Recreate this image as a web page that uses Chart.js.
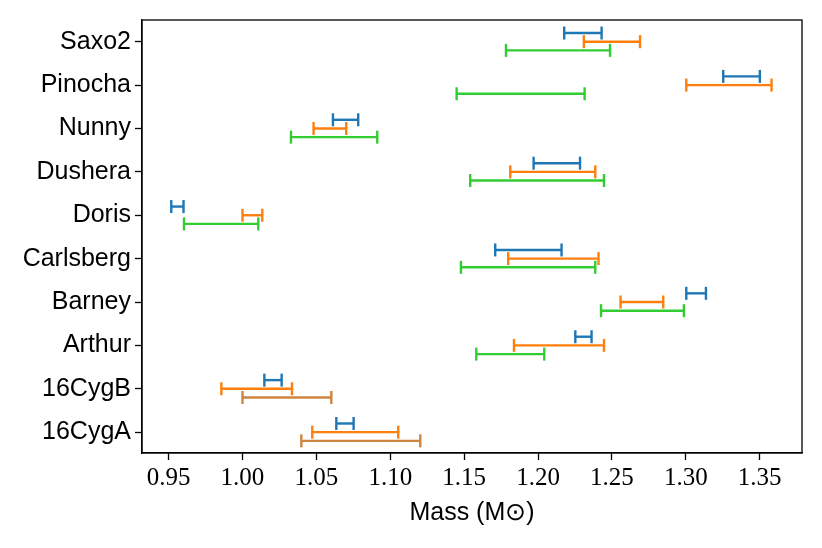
<!DOCTYPE html>
<html>
<head>
<meta charset="utf-8">
<script src="https://cdn.jsdelivr.net/npm/chart.js@4"></script>
<style>
  html, body { margin: 0; padding: 0; background: #fff; }
  #wrap { width: 822px; height: 548px; }
</style>
</head>
<body>
<div id="wrap"><canvas id="massChart" width="822" height="548"></canvas></div>
<script>
// stars, bottom to top
const stars = ['16CygA', '16CygB', 'Arthur', 'Barney', 'Carlsberg', 'Doris', 'Dushera', 'Nunny', 'Pinocha', 'Saxo2'];

// mass intervals (low / high) per method
const blueLo   = [1.0635, 1.0148, 1.2252, 1.3003, 1.1710, 0.9518, 1.1970, 1.0612, 1.3253, 1.2177];
const blueHi   = [1.0752, 1.0265, 1.2362, 1.3136, 1.2159, 0.9601, 1.2284, 1.0783, 1.3501, 1.2430];
const orangeLo = [1.0472, 0.9857, 1.1837, 1.2558, 1.1798, 1.0000, 1.1812, 1.0481, 1.3003, 1.2310];
const orangeHi = [1.1054, 1.0335, 1.2446, 1.2847, 1.2409, 1.0134, 1.2387, 1.0702, 1.3580, 1.2690];
const greenLo  = [null, null, 1.1582, 1.2426, 1.1478, 0.9604, 1.1541, 1.0328, 1.1449, 1.1783];
const greenHi  = [null, null, 1.2042, 1.2987, 1.2387, 1.0107, 1.2446, 1.0912, 1.2315, 1.2487];
const brownLo  = [1.0398, 1.0000, null, null, null, null, null, null, null, null];
const brownHi  = [1.1203, 1.0601, null, null, null, null, null, null, null, null];

const xTicks = [0.95, 1.00, 1.05, 1.10, 1.15, 1.20, 1.25, 1.30, 1.35];
const xTickLabels = ['0.95', '1.00', '1.05', '1.10', '1.15', '1.20', '1.25', '1.30', '1.35'];

const series = [
  { lo: blueLo,   hi: blueHi,   color: '#1f77b4', off: 0.2,  order: 4 },
  { lo: orangeLo, hi: orangeHi, color: '#ff7f0e', off: 0,    order: 3 },
  { lo: greenLo,  hi: greenHi,  color: '#32cd32', off: -0.2, order: 2 },
  { lo: brownLo,  hi: brownHi,  color: '#cd853f', off: -0.2, order: 1 }
];

// one small dataset per interval: a line with vertical caps at both ends
const datasets = [];
series.forEach(s => {
  stars.forEach((name, i) => {
    if (s.lo[i] == null) return;
    datasets.push({
      label: name,
      data: [{ x: s.lo[i], y: i + s.off }, { x: s.hi[i], y: i + s.off }],
      showLine: true,
      borderColor: s.color,
      borderWidth: 2.4,
      pointStyle: 'line',
      rotation: 90,
      pointRadius: 6.5,
      pointBorderWidth: 2.4,
      pointBorderColor: s.color,
      order: s.order
    });
  });
});

const frame = {
  id: 'frame',
  afterDraw(chart) {
    const a = chart.chartArea, c = chart.ctx;
    c.save();
    c.strokeStyle = '#000';
    c.lineWidth = 1.3;
    c.strokeRect(a.left, a.top, a.right - a.left, a.bottom - a.top);
    c.restore();
  }
};

new Chart(document.getElementById('massChart'), {
  type: 'scatter',
  data: { datasets: datasets },
  plugins: [frame],
  options: {
    responsive: false,
    animation: false,
    layout: { padding: { left: 0, top: 20, right: 20, bottom: 0 } },
    plugins: { legend: { display: false }, tooltip: { enabled: false } },
    scales: {
      x: {
        type: 'linear',
        min: 0.932,
        max: 1.3786,
        afterBuildTicks: s => { s.ticks = xTicks.map(v => ({ value: v })); },
        afterFit: s => { s.height = 95; },
        ticks: {
          callback: (v, i) => xTickLabels[i],
          font: { family: 'Liberation Serif', size: 25 },
          color: '#000',
          padding: 3,
          maxRotation: 0,
          autoSkip: false
        },
        grid: { drawOnChartArea: false, tickLength: 7, color: '#000', tickWidth: 1.3 },
        border: { color: '#000', width: 1.3 },
        title: {
          display: true,
          text: 'Mass (M\u2299)',
          font: { family: 'Liberation Sans', size: 25 },
          color: '#000',
          padding: { top: 0, bottom: 20 }
        }
      },
      y: {
        type: 'linear',
        min: -0.48,
        max: 9.5,
        afterBuildTicks: s => { s.ticks = stars.map((_, i) => ({ value: i })); },
        afterFit: s => { s.width = 142; },
        ticks: {
          callback: v => stars[v],
          font: { family: 'Liberation Sans', size: 25 },
          color: '#000',
          padding: 4,
          autoSkip: false
        },
        grid: { drawOnChartArea: false, tickLength: 7, color: '#000', tickWidth: 1.3 },
        border: { color: '#000', width: 1.3 }
      }
    }
  }
});
</script>
</body>
</html>
